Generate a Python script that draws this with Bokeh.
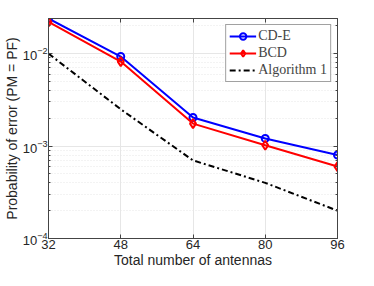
from bokeh.plotting import figure
from bokeh.models import LogAxis, LinearAxis, FixedTicker, LogTicker, Legend, LegendItem, Range1d, CustomJSTickFormatter
from bokeh.embed import file_html
from bokeh.resources import INLINE

antennas = [32, 48, 64, 80, 96]
cde = [0.024, 0.0093, 0.00204, 0.00121, 0.0008]
bcd = [0.022, 0.0082, 0.00175, 0.00102, 0.0006]
alg1 = [0.01, 0.0025, 0.0007, 0.0004, 0.0002]
x_ticks = [32, 48, 64, 80, 96]

p = figure(width=358, height=270, y_axis_type="log", output_backend="svg",
           toolbar_location=None, x_range=Range1d(32, 96), y_range=Range1d(1e-4, 0.024),
           min_border_left=38, min_border_right=21, min_border_top=18, min_border_bottom=26)
p.background_fill_color = "white"
p.border_fill_color = "white"
p.outline_line_color = "#444444"

p.xaxis.ticker = FixedTicker(ticks=x_ticks)
p.yaxis.ticker = LogTicker(num_minor_ticks=10)
for ax in [p.xaxis[0], p.yaxis[0]]:
    ax.major_label_text_font = "Liberation Sans"
    ax.major_label_text_font_size = "13px"
    ax.major_label_text_color = "#262626"
    ax.axis_label_text_font = "Liberation Sans"
    ax.axis_label_text_font_size = "14px"
    ax.axis_label_text_font_style = "normal"
    ax.axis_label_text_color = "#262626"
    ax.axis_line_color = "#444444"
    ax.major_tick_line_color = "#444444"
    ax.minor_tick_line_color = "#444444"
    ax.major_tick_in = 4
    ax.major_tick_out = 0
    ax.minor_tick_in = 2
    ax.minor_tick_out = 0
    ax.axis_label_standoff = 0
    ax.major_label_standoff = 1
p.xaxis.axis_label = "Total number of antennas"
p.yaxis.axis_label = "Probability of error (PM = PF)"

blank = CustomJSTickFormatter(code="return ' '")
top = LinearAxis(ticker=FixedTicker(ticks=x_ticks), formatter=blank, major_label_text_color=None,
                 major_label_text_font_size="1px", major_label_standoff=0,
                 major_tick_in=4, major_tick_out=0, axis_line_color="#444444",
                 major_tick_line_color="#444444")
right = LogAxis(ticker=LogTicker(num_minor_ticks=10), formatter=blank, major_label_text_color=None,
                major_label_text_font_size="1px", major_label_standoff=0,
                major_tick_in=4, major_tick_out=0, minor_tick_in=2, minor_tick_out=0,
                axis_line_color="#444444", major_tick_line_color="#444444",
                minor_tick_line_color="#444444")
p.add_layout(top, "above")
p.add_layout(right, "right")

p.xgrid.grid_line_color = "#e6e6e6"
p.ygrid.grid_line_color = "#e6e6e6"
p.ygrid.minor_grid_line_color = "#e6e6e6"
p.ygrid.minor_grid_line_dash = "1 2"

l1 = p.line(antennas, cde, line_color="#0000ff", line_width=2)
m1 = p.scatter(antennas, cde, marker="circle", size=7, line_color="#0000ff", fill_color=None, line_width=2)
l2 = p.line(antennas, bcd, line_color="#ff0000", line_width=2)
m2 = p.scatter(antennas, bcd, marker="diamond", size=9, line_color="#ff0000", fill_color=None, line_width=2)
l3 = p.line(antennas, alg1, line_color="black", line_width=2, line_dash="6 3 2 3")

legend = Legend(items=[LegendItem(label="CD-E", renderers=[l1, m1]),
                       LegendItem(label="BCD", renderers=[l2, m2]),
                       LegendItem(label="Algorithm 1", renderers=[l3])],
                location="top_right")
legend.label_text_font = "Liberation Serif"
legend.label_text_font_size = "14px"
legend.label_height = 16
legend.glyph_height = 16
legend.glyph_width = 27
legend.spacing = 1
legend.padding = 3
legend.margin = 6
legend.label_standoff = 2
legend.border_line_color = "#444444"
legend.background_fill_alpha = 1
p.add_layout(legend)

open("out.html", "w").write(file_html(p, INLINE))
